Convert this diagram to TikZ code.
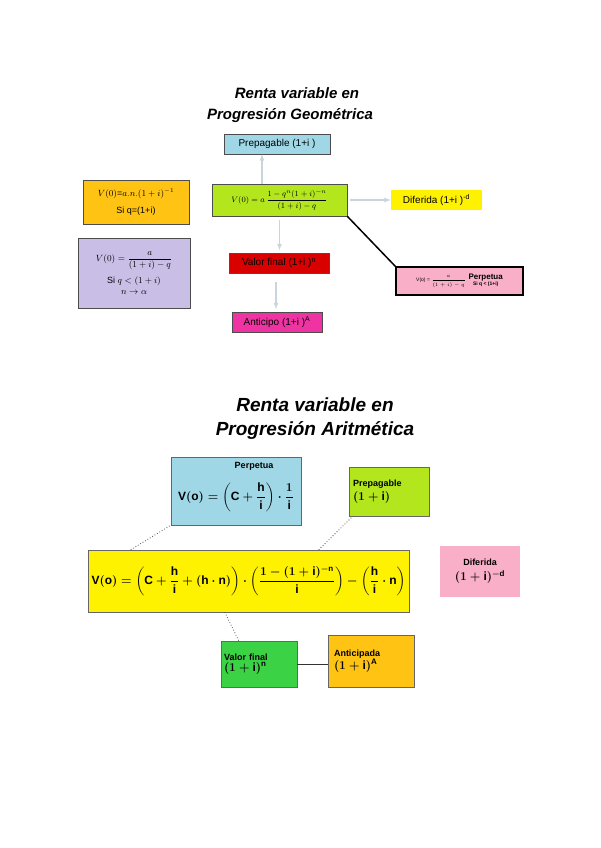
\documentclass[tikz,border=0pt]{standalone}
\usepackage{fontspec}
\setmainfont{Liberation Sans}
\usepackage{amsmath}
\definecolor{lav}{RGB}{200,190,230}
\definecolor{lblue}{RGB}{160,215,230}
\definecolor{lime2}{RGB}{180,230,30}
\definecolor{gr2}{RGB}{60,210,70}
\definecolor{or2}{RGB}{255,195,20}
\definecolor{pk2}{RGB}{250,175,200}
\begin{document}
\begin{tikzpicture}[x=1pt,y=-1pt,
 bx/.style={draw=black!70,line width=0.5pt,inner sep=2pt,align=center},
 arr/.style={draw=cyan!25!gray!40,line width=1.2pt,-latex},
 tt/.style={font=\bfseries\itshape\fontsize{15}{18}\selectfont},
 tt2/.style={font=\bfseries\itshape\fontsize{19}{23}\selectfont}]
\useasboundingbox (0,0) rectangle (600,848);
\node[tt] (t1) at (297,93) {Renta variable en};
\node[tt] (t2) at (290,116) {Progresión Geométrica};
\node[bx,fill=lblue,minimum width=106,minimum height=20,font=\normalsize] (pre) at (277,144) {Prepagable (1+i )};
\node[bx,fill=lime2,minimum width=135,minimum height=32,font=\footnotesize] (g) at (279.5,200) {$V(0)=a\,\dfrac{1-q^{n}(1+i)^{-n}}{(1+i)-q}$};
\node[bx,draw=none,fill=yellow,minimum width=91,minimum height=20,font=\normalsize] (dif) at (436.5,200) {Diferida (1+i )\textsuperscript{-d}};
\node[bx,fill=or2,minimum width=106,minimum height=44,font=\small] (or) at (136,202) {$V(0)$=$a.n.(1+i)^{-1}$\\[6pt]Si q=(1+i)};
\node[bx,fill=lav,minimum width=112,minimum height=70,font=\small] (pu) at (134,273) {$V(0)=\dfrac{a}{(1+i)-q}$\\[6pt]Si $q<(1+i)$\\ $n\to\alpha$};
\node[bx,fill=red!85!black,minimum width=100,minimum height=20,font=\normalsize] (vf) at (279,263) {Valor final (1+i )\textsuperscript{n}};
\node[bx,fill=magenta!80,minimum width=90,minimum height=20,font=\normalsize] (an) at (277,322) {Anticipo (1+i )\textsuperscript{A}};
\node[draw=black,line width=1.5pt,fill=pk2,minimum width=127,minimum height=28,inner sep=1pt,font=\tiny] (pp) at (459.5,281) {V(o) = $\dfrac{a}{(1+i)-q}$\ \ \begin{tabular}{@{}c@{}}\bfseries\footnotesize Perpetua\\ \bfseries Si q < (1+i)\end{tabular}};
\draw[arr] ([xshift=-17.5pt]g.north) -- (pre.south -| 262,0);
\draw[arr] (g.east) ++(3,0) -- (dif.west);
\draw[arr] (g.south) ++(0,4) -- ++(0,30);
\draw[arr] (vf.south) ++(-3,9) -- ++(0,27);
\draw[line width=1.5pt] (g.south east) -- (pp.north west);
%
\node[tt2] (t3) at (315,405) {Renta variable en};
\node[tt2] (t4) at (315,430) {Progresión Aritmética};
\node[bx,draw=black!60,fill=lblue,minimum width=130,minimum height=68] (pa) at (236,491) {};
\node[font=\bfseries\small] (pat) at (254,466) {Perpetua};
\node[font=\large] (paf) at (236,497) {$\boldsymbol{\mathrm{V(o)}=\left(\mathrm{C}+\dfrac{\mathrm h}{\mathrm i}\right)\cdot\dfrac{1}{\mathrm i}}$};
\node[bx,draw=black!60,fill=lime2,minimum width=80,minimum height=49,align=left,font=\bfseries\small,text width=72pt] (pg) at (389,491.5) {Prepagable\\[3pt]\large $\boldsymbol{(1+\mathrm i)}$};
\node[bx,draw=black!60,fill=yellow,minimum width=321,minimum height=62,font=\large] (y) at (248.5,581) {$\boldsymbol{\mathrm{V(o)}=\left(\mathrm C+\dfrac{\mathrm h}{\mathrm i}+(\mathrm h\cdot \mathrm n)\right)\cdot\left(\dfrac{1-(1+\mathrm i)^{-\mathrm n}}{\mathrm i}\right)-\left(\dfrac{\mathrm h}{\mathrm i}\cdot \mathrm n\right)}$};
\node[bx,draw=none,fill=pk2,minimum width=80,minimum height=51,font=\bfseries\small] (df) at (480,571.5) {Diferida\\[4pt]\large $\boldsymbol{(1+\mathrm i)^{-\mathrm d}}$};
\node[bx,draw=black!60,fill=gr2,minimum width=76,minimum height=46,align=left,font=\bfseries\small,text width=70pt] (va) at (259,664) {Valor final\\\large $\boldsymbol{(1+\mathrm i)^{\mathrm n}}$};
\node[bx,draw=black!60,fill=or2,minimum width=86,minimum height=52,align=left,font=\bfseries\small,text width=74pt] (aa) at (371,661) {Anticipada\\\large $\boldsymbol{(1+\mathrm i)^{\mathrm A}}$};
\draw[dotted,thick,black!70] ([xshift=43pt]y.north west) -- (pa.south west);
\draw[dotted,thick,black!70] ([xshift=231pt]y.north west) -- ([xshift=4pt]pg.south west);
\draw[dotted,thick,black!70] ([xshift=137pt]y.south west) -- ([xshift=18pt]va.north west);
\draw[black!80] (va.east) -- (aa.west |- va.east);
\end{tikzpicture}
\end{document}
